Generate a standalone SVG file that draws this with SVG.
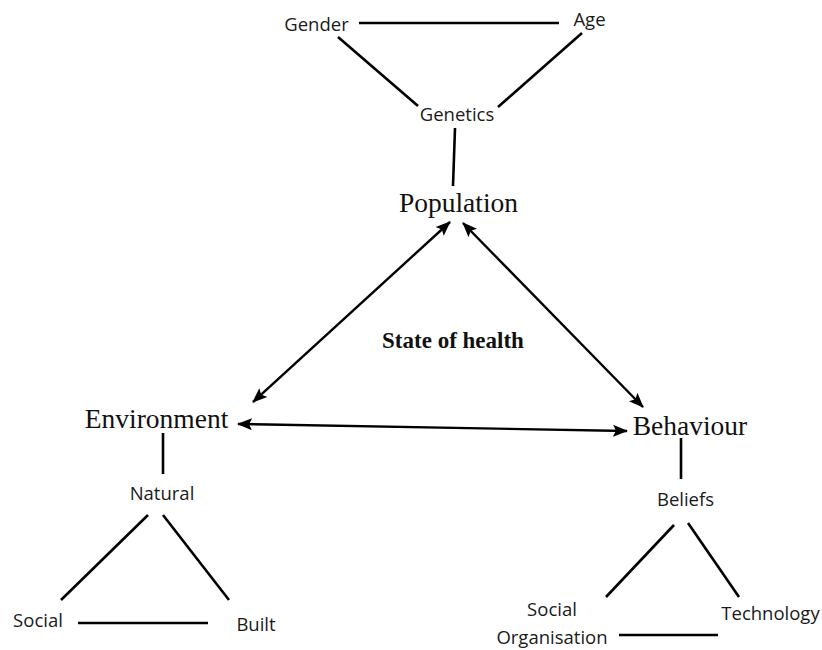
<svg xmlns="http://www.w3.org/2000/svg" width="822" height="650" viewBox="0 0 822 650">
  <style>
    .s { font-family: "Open Sans", "Noto Sans", sans-serif; font-size: 18.5px; fill: #1a1a1a; text-anchor: middle; }
    .m { font-family: "Liberation Serif", "Times New Roman", serif; font-size: 27.5px; fill: #111; text-anchor: middle; }
    .b { font-family: "Liberation Serif", "Times New Roman", serif; font-size: 23px; font-weight: bold; fill: #111; text-anchor: middle; }
    .ln { stroke: #000; stroke-width: 2.6; fill: none; }
    .ar { stroke: #000; stroke-width: 2.4; fill: none; marker-start: url(#ah); marker-end: url(#ah); }
  </style>
  <defs>
    <marker id="ah" markerUnits="userSpaceOnUse" markerWidth="15" markerHeight="13" viewBox="0 0 15 13" refX="14" refY="6.5" orient="auto-start-reverse">
      <path d="M0,0.5 L15,6.5 L0,12.5 L3,6.5 z" fill="#000"/>
    </marker>
  </defs>
  <rect width="822" height="650" fill="#fff"/>

  <g id="connectors">
    <line class="ln" x1="359" y1="23" x2="559" y2="23"/>
    <line class="ln" x1="338" y1="37" x2="418" y2="106"/>
    <line class="ln" x1="582" y1="33" x2="498" y2="107"/>
    <line class="ln" x1="455" y1="128" x2="453" y2="186"/>
    <line class="ar" x1="253" y1="402" x2="450" y2="222"/>
    <line class="ar" x1="463" y1="223" x2="643" y2="407"/>
    <line class="ar" x1="238" y1="424" x2="627" y2="431"/>
    <line class="ln" x1="163" y1="433" x2="163" y2="474"/>
    <line class="ln" x1="148" y1="515" x2="61" y2="600"/>
    <line class="ln" x1="163" y1="515" x2="229" y2="600"/>
    <line class="ln" x1="78" y1="623" x2="208" y2="623"/>
    <line class="ln" x1="681" y1="438" x2="681" y2="479"/>
    <line class="ln" x1="674" y1="525" x2="606" y2="597"/>
    <line class="ln" x1="688" y1="523" x2="739" y2="597"/>
    <line class="ln" x1="619" y1="635" x2="718" y2="635"/>
  </g>

  <g id="gender"><text class="s" x="316.5" y="31">Gender</text></g>
  <g id="age"><text class="s" x="589.5" y="26">Age</text></g>
  <g id="genetics"><text class="s" x="457" y="121">Genetics</text></g>
  <g id="population"><text class="m" x="458.5" y="212">Population</text></g>
  <g id="state"><text class="b" x="453" y="348">State of health</text></g>
  <g id="environment"><text class="m" x="156.5" y="428">Environment</text></g>
  <g id="behaviour"><text class="m" x="690" y="435">Behaviour</text></g>
  <g id="natural"><text class="s" x="162" y="500">Natural</text></g>
  <g id="social-env"><text class="s" x="38" y="627">Social</text></g>
  <g id="built"><text class="s" x="256" y="631">Built</text></g>
  <g id="beliefs"><text class="s" x="685.5" y="506">Beliefs</text></g>
  <g id="social-org"><text class="s" x="552" y="616">Social</text><text class="s" x="552" y="644">Organisation</text></g>
  <g id="technology"><text class="s" x="770.5" y="620">Technology</text></g>
</svg>
